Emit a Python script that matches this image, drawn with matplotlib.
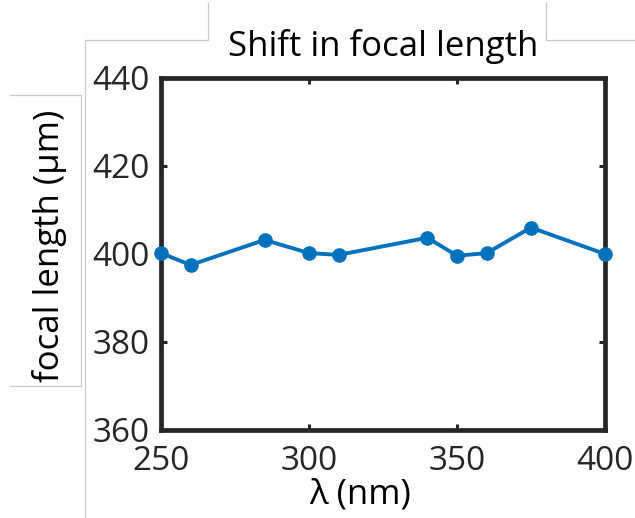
import matplotlib
matplotlib.use('Agg')
import matplotlib.pyplot as plt
from matplotlib.lines import Line2D

# wavelength (nm) vs measured focal length (um)
wavelength = [250, 260, 285, 300, 310, 340, 350, 360, 375, 400]
focal_len = [400.2, 397.5, 403.2, 400.2, 399.8, 403.7, 399.6, 400.2, 406.0, 400.0]

xticks = [250, 300, 350, 400]
yticks = [360, 380, 400, 420, 440]

plt.rcParams['font.family'] = ['Open Sans', 'DejaVu Sans']

W, H = 635, 518
fig = plt.figure(figsize=(W / 100, H / 100), dpi=100)
ax = fig.add_axes([161 / W, 1 - 430 / H, (605 - 161) / W, (430 - 78) / H])

ax.plot(wavelength, focal_len, '-o', color='#0072BD', lw=2.8, ms=9.5, clip_on=False, zorder=5)

ax.set_xlim(250, 400)
ax.set_ylim(360, 440)
ax.set_xticks(xticks)
ax.set_yticks(yticks)

dark = '#262626'
for s in ax.spines.values():
    s.set_linewidth(3.4)
    s.set_color(dark)
ax.tick_params(direction='in', length=4.5, width=2.2, color=dark, labelcolor=dark,
               labelsize=24, top=True, right=True)
ax.tick_params(axis='x', pad=11)
ax.tick_params(axis='y', pad=8)

ax.set_title('Shift in focal length', fontsize=25, color='black', pad=16)
ax.set_xlabel('λ (nm)', fontsize=25, color='black')
ax.set_ylabel('focal length (µm)', fontsize=25, color='black')
ax.xaxis.set_label_coords(0.448, -0.135)
ax.yaxis.set_label_coords(-0.212, 0.523)

# thin gray frames left around the text boxes
def gline(xs, ys):
    fig.add_artist(Line2D([x / W for x in xs], [1 - y / H for y in ys],
                          color='#c8c8c8', lw=0.9, transform=fig.transFigure))

gline([208, 208, 85, 85], [3, 40, 40, 518])
gline([546, 546, 635], [3, 40, 40])
gline([10, 81, 81, 10], [95, 95, 386, 386])

fig.savefig('out.png', dpi=100)
